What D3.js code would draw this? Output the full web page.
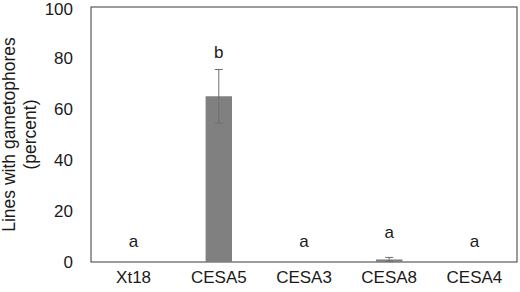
<!DOCTYPE html>
<html>
<head>
<meta charset="utf-8">
<script src="https://cdn.jsdelivr.net/npm/d3@7"></script>
<style>
  body { margin: 0; background: #fff; }
  svg text { font-family: "Liberation Sans", Arial, sans-serif; fill: #1a1a1a; }
</style>
</head>
<body>
<svg id="chart" width="520" height="292"></svg>
<script>
// data
var lines = ["Xt18", "CESA5", "CESA3", "CESA8", "CESA4"];
var percent = [0, 65, 0, 1, 0];
var errs = [0, 10.5, 0, 0.8, 0];
var letters = ["a", "b", "a", "a", "a"];
var yTicks = [0, 20, 40, 60, 80, 100];

var svg = d3.select("#chart"),
    margin = { top: 7, right: 3, bottom: 30, left: 91 },
    width = +svg.attr("width") - margin.left - margin.right,
    height = +svg.attr("height") - margin.top - margin.bottom,
    g = svg.append("g").attr("transform", "translate(" + margin.left + "," + margin.top + ")");

var x = d3.scaleBand().domain(lines).range([0, width]).paddingInner(0.69).paddingOuter(0.345);
var y = d3.scaleLinear().domain([0, 100]).range([height, 0]);

// frame
g.append("rect")
  .attr("width", width).attr("height", height)
  .attr("fill", "none").attr("stroke", "#3a3a3a").attr("stroke-width", 1);

// bars
g.selectAll(".bar")
  .data(lines)
  .enter().append("rect")
  .attr("class", "bar")
  .attr("x", function (d) { return x(d); })
  .attr("y", function (d, i) { return y(percent[i]); })
  .attr("width", x.bandwidth())
  .attr("height", function (d, i) { return height - y(percent[i]); })
  .attr("fill", "#808080");

// error bars
var eb = g.selectAll(".err")
  .data(lines.filter(function (d, i) { return errs[i] > 0; }))
  .enter().append("g").attr("class", "err")
  .attr("stroke", "#6e6e6e").attr("stroke-width", 1);
eb.append("line")
  .attr("x1", function (d) { return x(d) + x.bandwidth() / 2; })
  .attr("x2", function (d) { return x(d) + x.bandwidth() / 2; })
  .attr("y1", function (d) { var i = lines.indexOf(d); return y(percent[i] + errs[i]); })
  .attr("y2", function (d) { var i = lines.indexOf(d); return y(Math.max(0, percent[i] - errs[i])); });
eb.append("line")
  .attr("x1", function (d) { return x(d) + x.bandwidth() / 2 - 4; })
  .attr("x2", function (d) { return x(d) + x.bandwidth() / 2 + 4; })
  .attr("y1", function (d) { var i = lines.indexOf(d); return y(percent[i] + errs[i]); })
  .attr("y2", function (d) { var i = lines.indexOf(d); return y(percent[i] + errs[i]); });
eb.append("line")
  .attr("x1", function (d) { return x(d) + x.bandwidth() / 2 - 4; })
  .attr("x2", function (d) { return x(d) + x.bandwidth() / 2 + 4; })
  .attr("y1", function (d) { var i = lines.indexOf(d); return y(Math.max(0, percent[i] - errs[i])); })
  .attr("y2", function (d) { var i = lines.indexOf(d); return y(Math.max(0, percent[i] - errs[i])); });

// significance letters (above the error bar, or a fixed height for the empty bars)
g.selectAll(".letter")
  .data(lines)
  .enter().append("text")
  .attr("class", "letter")
  .attr("x", function (d) { return x(d) + x.bandwidth() / 2; })
  .attr("y", function (d, i) { return errs[i] > 0 ? y(percent[i] + errs[i]) - 11 - (percent[i] < 10 ? 8 : 0) : y(0) - 15; })
  .attr("text-anchor", "middle")
  .attr("font-size", 17)
  .text(function (d, i) { return letters[i]; });

// y axis labels
g.selectAll(".ytick")
  .data(yTicks)
  .enter().append("text")
  .attr("class", "ytick")
  .attr("x", -18)
  .attr("y", function (d) { return Math.max(y(d), 2); })
  .attr("dy", "0.35em")
  .attr("text-anchor", "end")
  .attr("font-size", 17)
  .text(function (d) { return d; });

// x axis labels
g.selectAll(".xtick")
  .data(lines)
  .enter().append("text")
  .attr("class", "xtick")
  .attr("x", function (d) { return x(d) + x.bandwidth() / 2; })
  .attr("y", height + 15)
  .attr("dy", "0.35em")
  .attr("text-anchor", "middle")
  .attr("font-size", 17)
  .text(function (d) { return d; });

// y axis title
var title = svg.append("text")
  .attr("transform", "translate(9," + (margin.top + height / 2) + ") rotate(-90)")
  .attr("text-anchor", "middle")
  .attr("font-size", 17.5);
title.append("tspan").attr("x", 0).attr("dy", "0.35em").text("Lines with gametophores");
title.append("tspan").attr("x", 0).attr("dy", "1.18em").text("(percent)");
</script>
</body>
</html>
